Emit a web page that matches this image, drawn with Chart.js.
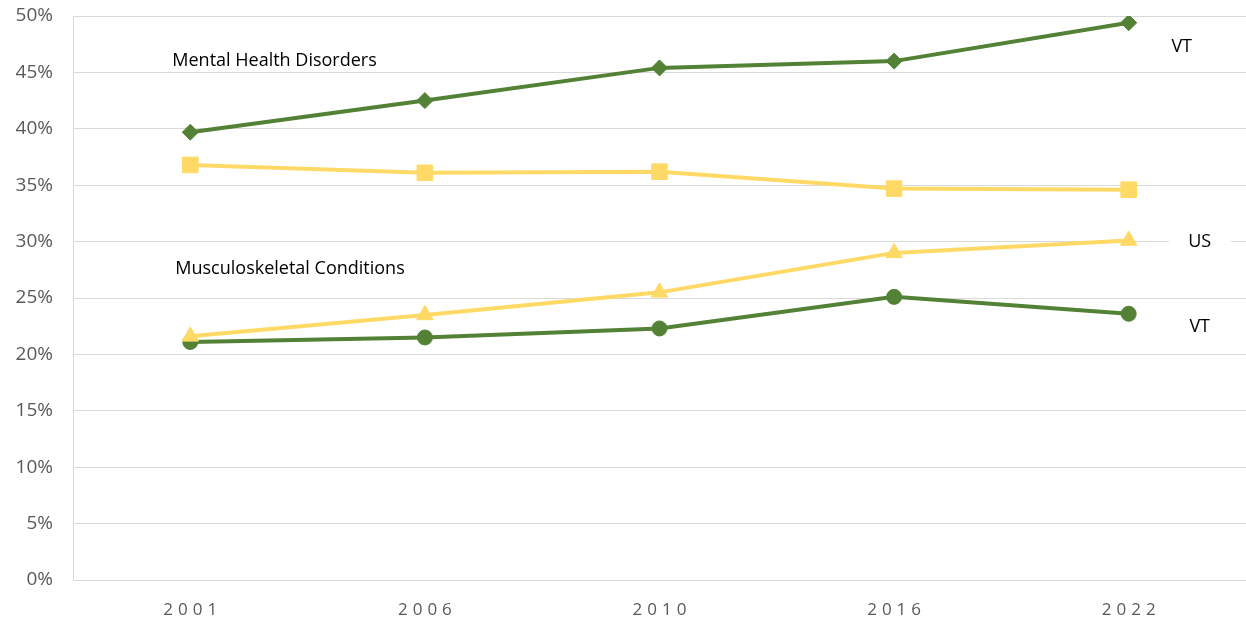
<!DOCTYPE html>
<html>
<head>
<meta charset="utf-8">
<script src="https://cdn.jsdelivr.net/npm/chart.js@4.4.1/dist/chart.umd.min.js"></script>
<style>
  html, body { margin: 0; padding: 0; background: #fff; }
  #wrap { width: 1246px; height: 621px; }
</style>
</head>
<body>
<div id="wrap"><canvas id="myChart"></canvas></div>
<script>
const years = ['2001', '2006', '2010', '2016', '2022'];
const vtMental = [39.7, 42.5, 45.4, 46.0, 49.4];
const usMental = [36.8, 36.1, 36.2, 34.7, 34.6];
const usMusculo = [21.6, 23.5, 25.5, 29.0, 30.1];
const vtMusculo = [21.1, 21.5, 22.3, 25.1, 23.6];
const yTicks = [0, 5, 10, 15, 20, 25, 30, 35, 40, 45, 50];

const green = '#538135';
const yellow = '#FFD966';
const font = "'Open Sans', sans-serif";

// text labels placed next to the lines
const sideLabels = {
    id: 'sideLabels',
    afterDatasetsDraw(chart) {
        const c = chart.ctx, x = chart.scales.x, y = chart.scales.y;
        c.save();
        c.font = '18px ' + font;
        c.fillStyle = '#000';
        c.textBaseline = 'middle';
        c.textAlign = 'left';
        c.fillText('Mental Health Disorders', x.getPixelForValue(0) - 18, y.getPixelForValue(46.0));
        c.fillText('Musculoskeletal Conditions', x.getPixelForValue(0) - 15, y.getPixelForValue(27.6));
        c.textAlign = 'center';
        c.fillText('VT', x.getPixelForValue(4) + 53, y.getPixelForValue(47.3));
        // US sits on the 30% grid line with a white box behind it
        const ux = x.getPixelForValue(4) + 71, uy = y.getPixelForValue(30);
        c.fillStyle = '#fff';
        c.fillRect(ux - 31, uy - 10, 62, 20);
        c.fillStyle = '#000';
        c.fillText('US', ux, uy);
        c.fillText('VT', x.getPixelForValue(4) + 71, y.getPixelForValue(22.4));
        c.restore();
    }
};

// spaced-out year labels on the x axis
const spacedYears = {
    id: 'spacedYears',
    beforeDraw(chart) {
        const s = chart.scales.x;
        if (s._spaced) return;
        const orig = s.drawLabels.bind(s);
        s.drawLabels = function (area) {
            const c = chart.ctx;
            c.save();
            c.letterSpacing = '5px';
            c.translate(2.5, 0);
            orig(area);
            c.restore();
        };
        s._spaced = true;
    }
};

const ctx = document.getElementById('myChart').getContext('2d');
const myChart = new Chart(ctx, {
    type: 'line',
    data: {
        labels: years,
        datasets: [
            {
                label: 'VT Mental Health Disorders',
                data: vtMental,
                borderColor: green,
                backgroundColor: green,
                pointStyle: 'rectRot',
                pointRadius: 8
            },
            {
                label: 'US Mental Health Disorders',
                data: usMental,
                borderColor: yellow,
                backgroundColor: yellow,
                pointStyle: 'rect',
                pointRadius: 11
            },
            {
                label: 'US Musculoskeletal Conditions',
                data: usMusculo,
                borderColor: yellow,
                backgroundColor: yellow,
                pointStyle: 'triangle',
                pointRadius: 9.5
            },
            {
                label: 'VT Musculoskeletal Conditions',
                data: vtMusculo,
                borderColor: green,
                backgroundColor: green,
                pointStyle: 'circle',
                pointRadius: 7.5
            }
        ]
    },
    options: {
        responsive: true,
        maintainAspectRatio: false,
        animation: false,
        layout: { autoPadding: false, padding: { top: 16, right: 0, bottom: 0, left: 0 } },
        elements: {
            line: { borderWidth: 4, tension: 0 },
            point: { borderWidth: 1 }
        },
        plugins: {
            legend: { display: false },
            tooltip: { enabled: false }
        },
        scales: {
            x: {
                offset: true,
                grid: { display: false },
                border: { display: false },
                ticks: { color: '#595959', font: { family: font, size: 17 }, padding: 12 },
                afterFit(scale) { scale.height = 41; }
            },
            y: {
                min: 0,
                max: 50,
                afterBuildTicks(scale) { scale.ticks = yTicks.map(v => ({ value: v })); },
                grid: { color: '#d9d9d9', lineWidth: 1, drawTicks: false },
                border: { display: true, color: '#d9d9d9' },
                ticks: {
                    color: '#595959',
                    font: { family: font, size: 19 },
                    padding: 20,
                    callback: v => v + '%'
                },
                afterFit(scale) {
                    scale.width = 73;
                    scale.paddingTop = 0;
                    scale.paddingBottom = 0;
                }
            }
        }
    },
    plugins: [sideLabels, spacedYears]
});
</script>
</body>
</html>
